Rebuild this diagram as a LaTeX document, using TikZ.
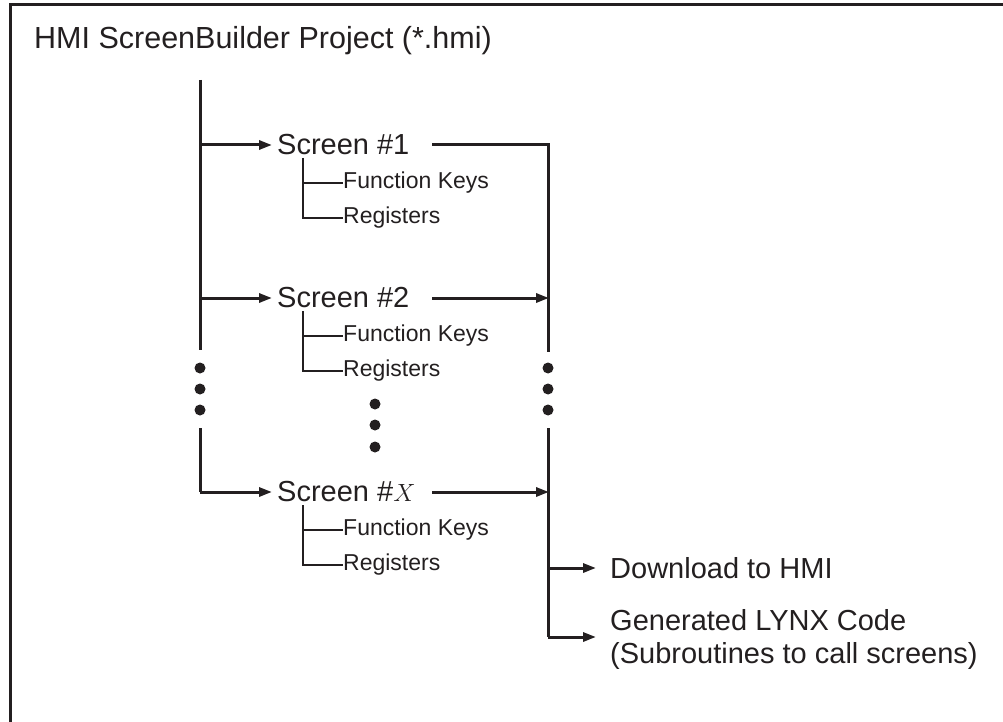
\documentclass[tikz,border=0pt]{standalone}
\usepackage{fontspec}
\setmainfont{Liberation Sans}
\usetikzlibrary{arrows.meta}
\definecolor{ink}{HTML}{231F20}
\begin{document}
\begin{tikzpicture}[x=1pt,y=-1pt,
  big/.style={font=\fontsize{29}{33}\selectfont, text=ink, inner sep=0pt, anchor=west},
  small/.style={font=\fontsize{23}{26}\selectfont, text=ink, inner sep=0pt, anchor=west},
  trunk/.style={draw=ink, line width=3pt},
  branch/.style={draw=ink, line width=2pt},
  arr/.style={trunk, -{Triangle[length=13pt,width=9pt]}},
  blob/.style={circle, fill=ink, inner sep=0pt, minimum size=11pt}]
\useasboundingbox (0,0) rectangle (1003,722);
% frame (cropped)
\coordinate (fbl) at (10,722);
\coordinate (ftl) at (10,5);
\coordinate (ftr) at (1003,5);
\draw[trunk] (fbl) -- (ftl) -- (ftr);
% title
\node[big, font=\fontsize{30.5}{34}\selectfont] (title) at (34,41) {HMI ScreenBuilder Project (*.hmi)};
% screens
\node[big] (s1) at (277,145) {Screen \#1};
\node[big] (s2) at (277,298) {Screen \#2};
\node[big] (sx) at (277,492) {Screen \#$X$};
% left trunk
\coordinate (L0) at (200,80);
\coordinate (L1) at (200,350);
\coordinate (L2) at (200,428);
\coordinate (b1) at (200,145);
\coordinate (b2) at (200,298);
\coordinate (bx) at (200,492);
\draw[trunk] (L0) -- (L1);
\draw[trunk] (L2) -- (bx);
\node[blob] (ld1) at (200,368) {};
\node[blob] (ld2) at (200,389) {};
\node[blob] (ld3) at (200,410) {};
\draw[arr] (b1) -- ([xshift=-5pt]s1.west);
\draw[arr] (b2) -- ([xshift=-5pt]s2.west);
\draw[arr] (bx) -- ([xshift=-5pt]sx.west);
% right trunk
\coordinate (r1s) at (432,145);
\coordinate (r2s) at (432,298);
\coordinate (rxs) at (432,492);
\coordinate (R1) at (548,145);
\coordinate (R2) at (548,352);
\coordinate (R3) at (548,428);
\coordinate (R4) at (548,637);
\coordinate (Rd) at (548,568);
\coordinate (R2e) at (549,298);
\coordinate (Rxe) at (549,492);
\draw[trunk] (r1s) -- (R1) -- (R2);
\draw[trunk] (R3) -- (R4);
\node[blob] (rd1) at (548,368) {};
\node[blob] (rd2) at (548,389) {};
\node[blob] (rd3) at (548,410) {};
\draw[arr] (r2s) -- (R2e);
\draw[arr] (rxs) -- (Rxe);
% outputs
\node[big] (dl) at (610,568) {Download to HMI};
\node[big, align=left] (gen) at (610,639) {Generated LYNX Code\\(Subroutines to call screens)};
\draw[arr] (Rd) -- ([xshift=-14pt]dl.west);
\draw[arr] (R4) -- ([xshift=-14pt]dl.west |- R4);
% sub items
\foreach \n/\Y in {1/145, 2/298, x/492}{
  \coordinate (t\n) at (303,\Y+13);
  \coordinate (f\n) at (303,\Y+38);
  \coordinate (g\n) at (303,\Y+73);
  \node[small] (fk\n) at (343,\Y+38) {Function Keys};
  \node[small] (rg\n) at (343,\Y+73) {Registers};
  \draw[branch] (t\n) -- (g\n) -- (rg\n.west);
  \draw[branch] (f\n) -- (fk\n.west);
}
% middle dots
\node[blob] (md1) at (375,404) {};
\node[blob] (md2) at (375,425) {};
\node[blob] (md3) at (375,447) {};
\end{tikzpicture}
\end{document}
